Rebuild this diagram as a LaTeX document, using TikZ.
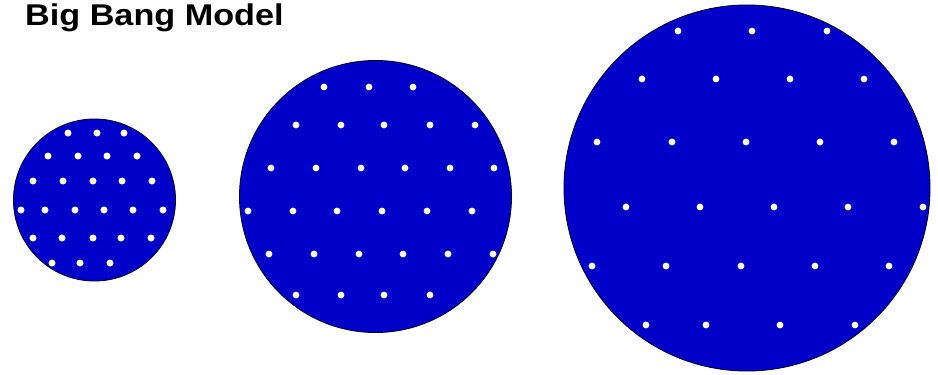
\documentclass[tikz,border=0pt]{standalone}
\usepackage{fontspec}
\setmainfont{Liberation Sans}
\definecolor{bangblue}{RGB}{0,0,200}
\usepackage{tikz}

\begin{document}
\begin{tikzpicture}[x=1pt,y=-1pt,
    universe/.style={circle,draw=black!80!blue,line width=0.9pt,fill=bangblue,inner sep=0pt},
    galaxy/.style={white}]
        \useasboundingbox (0,0) rectangle (938,375);
        % title
        \node[anchor=base west,inner sep=0pt,xscale=1.14,transform shape,
              font=\fontsize{30}{36}\selectfont\bfseries] (title) at (25,25) {Big Bang Model};
        % three stages of the expanding universe
        \node[universe,minimum size=162pt] (early) at (94.5,200) {};
        \node[universe,minimum size=272pt] (middle) at (375.5,196.5) {};
        \node[universe,minimum size=366pt] (late) at (747,188) {};
        % galaxies: early stage
        \foreach \x/\y in {68/133,97/133,124/133,
                           48/156,78/156,107/156,137/156,
                           33/181,63/181,93/181,122/181,152/181,
                           21/210,45/210,75/210,104/210,133/210,163/210,
                           33/238,62/238,93/238,121/238,151/238,
                           52/263,80/263,110/263}
            \fill[galaxy] (\x,\y) circle (3.5);
        % galaxies: middle stage
        \foreach \x/\y in {324/87,369/87,413/87,
                           296/125,341/125,384/125,430/125,475/125,
                           271/168,316/168,361/168,405/168,450/168,494/168,
                           248/211,293/211,337/211,382/211,427/211,472/211,
                           269/254,314/254,359/254,403/254,448/254,493/254,
                           296/295,341/295,384/295,430/295}
            \fill[galaxy] (\x,\y) circle (3.4);
        % galaxies: late stage
        \foreach \x/\y in {678/31,752/31,827/31,
                           642/79,716/79,790/79,864/79,
                           597/142,672/142,746/142,820/142,894/142,
                           626/207,700/207,774/207,848/207,923/207,
                           592/266,666/266,741/266,815/266,889/266,
                           646/325,706/325,780/325,855/325}
            \fill[galaxy] (\x,\y) circle (3.4);
      \end{tikzpicture}
\end{document}
